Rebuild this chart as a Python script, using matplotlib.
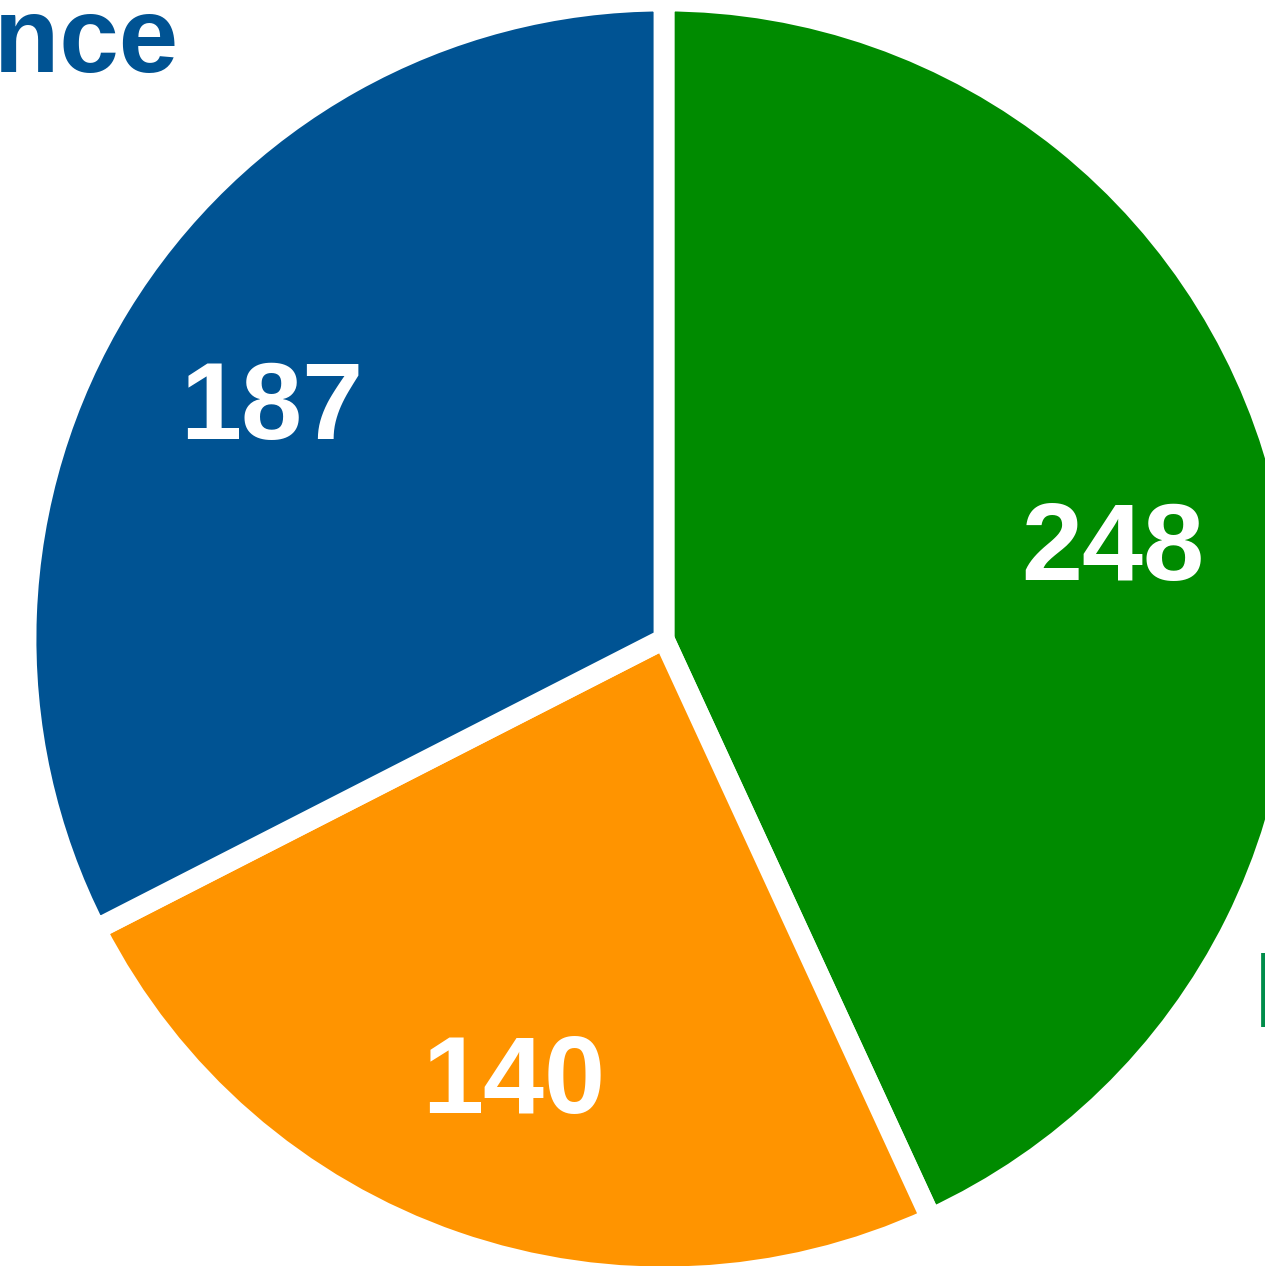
import matplotlib.pyplot as plt

# slice values (clockwise from 12 o'clock)
labels = ["Research", "Operations", "Finance"]
values = [248, 140, 187]
colors = ["#008b00", "#ff9400", "#005393"]
label_colors = ["#008c4a", "#ff9400", "#005393"]

total = sum(values)

plt.rcParams['font.family'] = ['Liberation Sans', 'DejaVu Sans']

fig = plt.figure(figsize=(12.65, 12.66), dpi=100)
ax = fig.add_axes([0, 0, 1, 1])

wedges, texts, autotexts = ax.pie(
    values, colors=colors, startangle=90, counterclock=False,
    center=(664, 627), radius=638,
    autopct=lambda p: f"{round(p * total / 100)}", pctdistance=0.72,
    wedgeprops=dict(edgecolor="white", linewidth=15),
    textprops=dict(color="white", fontsize=79, fontweight="bold"),
)
for t in autotexts:
    t.set_va("center_baseline")

# outside labels (mostly cut off by the figure edge)
ax.text(179, 1194, labels[2], ha="right", va="baseline", fontsize=77,
        fontweight="bold", color=label_colors[2])
ax.text(1254, 239, labels[0], ha="left", va="baseline", fontsize=77,
        fontweight="bold", color=label_colors[0])

ax.set_xlim(0, 1265)
ax.set_ylim(0, 1266)
ax.axis("off")

fig.savefig("out.png", dpi=100)
